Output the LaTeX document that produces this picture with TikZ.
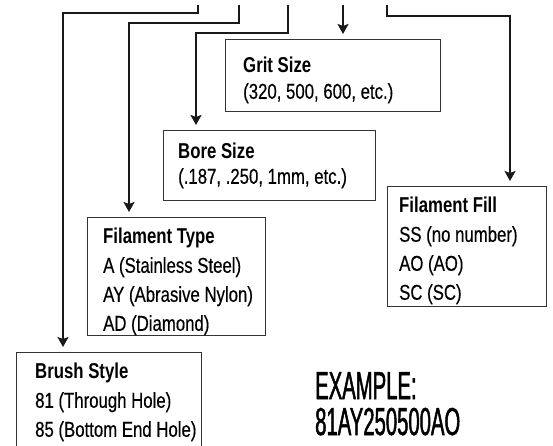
\documentclass[tikz,border=0pt]{standalone}
\usepackage{fontspec}
\setmainfont{Liberation Sans}[FakeStretch=0.78, UprightFeatures={FakeBold=0.4}]
\newfontfamily\examplefont{Liberation Sans}[FakeStretch=0.52, FakeBold=1.2]
\usepackage{tikz}
\usetikzlibrary{arrows.meta}
\usetikzlibrary{positioning}

\begin{document}
\begin{tikzpicture}[x=1pt, y=-1pt,
		box/.style={rectangle, draw=black!80, line width=0.8pt, anchor=north west, inner sep=0pt},
		txt/.style={anchor=north west, inner sep=0pt, align=left, font=\fontsize{21.5}{29}\selectfont},
		conn/.style={line width=2pt, black!90, -{Stealth[length=10pt,width=11pt,inset=2pt]}, shorten >=5pt}]
			\useasboundingbox (0,0) rectangle (553,446);
			
			% Boxes
			\node[box, minimum width=215pt, minimum height=72pt] (grit) at (225,39) {};
			\node[box, minimum width=212pt, minimum height=70pt] (bore) at (163,130) {};
			\node[box, minimum width=178pt, minimum height=118pt] (type) at (87,217) {};
			\node[box, minimum width=159pt, minimum height=120pt] (fill) at (387,186) {};
			\node[box, minimum width=185pt, minimum height=110pt] (brush) at (16,352) {};
			
			% Texts
			\node[txt, font=\fontsize{21.5}{26}\selectfont] (grittxt) at (243,57) {\textbf{Grit Size}\\(320, 500, 600, etc.)};
			\node[txt, font=\fontsize{21.5}{25}\selectfont] (boretxt) at (178,143) {\textbf{Bore Size}\\(.187, .250, 1mm, etc.)};
			\node[txt] (typetxt) at (103,228) {\textbf{Filament Type}\\A (Stainless Steel)\\AY (Abrasive Nylon)\\AD (Diamond)};
			\node[txt] (filltxt) at (399,197) {\textbf{Filament Fill}\\SS (no number)\\AO (AO)\\SC (SC)};
			\node[txt] (brushtxt) at (35,363) {\textbf{Brush Style}\\81 (Through Hole)\\85 (Bottom End Hole)};
			\node[txt, font=\examplefont\fontsize{39}{36}\selectfont] (example) at (315,372) {EXAMPLE:\\81AY250500AO};
			
			% Start points at the top
			\coordinate (s1) at (198,5);
			\coordinate (s2) at (239,5);
			\coordinate (s3) at (288,5);
			\coordinate (s4) at (343,5);
			\coordinate (s5) at (387,5);
			\coordinate (k1) at (63,13);
			\coordinate (k2) at (129,23);
			\coordinate (k3) at (196,33);
			\coordinate (k5) at (510,16);
			
			% Draw arrows
			\draw[conn] (s1) |- (k1) -- (k1 |- brush.north);
			\draw[conn] (s2) |- (k2) -- (k2 |- type.north);
			\draw[conn] (s3) |- (k3) -- (k3 |- bore.north);
			\draw[conn] (s4) -- (s4 |- grit.north);
			\draw[conn] (s5) |- (k5) -- (k5 |- fill.north);
		\end{tikzpicture}
\end{document}
